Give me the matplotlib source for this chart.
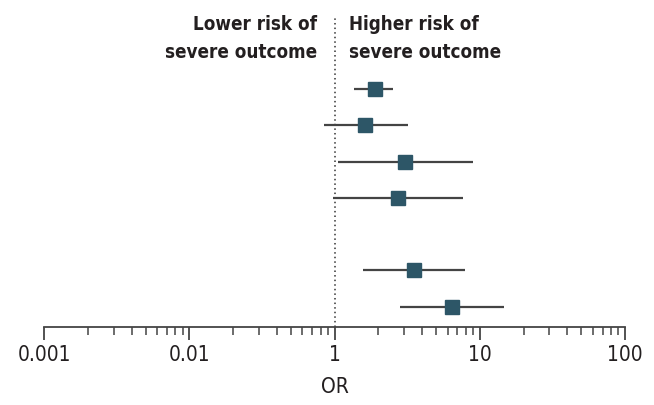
import matplotlib
matplotlib.use("Agg")
import matplotlib.pyplot as plt

# odds ratios with 95% CI, one row per comparison (row 4 is a blank spacer)
rows = [0, 1, 2, 3, 5, 6]
odds_ratio = [1.89, 1.62, 3.03, 2.71, 3.54, 6.44]
ci_low = [1.36, 0.85, 1.05, 0.98, 1.57, 2.82]
ci_high = [2.53, 3.18, 8.96, 7.61, 7.93, 14.7]

tick_values = [0.01, 0.1, 1, 10, 100]
tick_labels = ["0.001", "0.01", "1", "10", "100"]

TEXT = "#231f20"
BOX = "#2d5667"
FONT = dict(family="DejaVu Sans", stretch="condensed")

fig = plt.figure(figsize=(6.54, 4.05), dpi=100)
ax = fig.add_axes([44.3 / 654, 78.3 / 405, 580.7 / 654, 308.7 / 405])

ax.set_xscale("log")
ax.set_xlim(0.01, 100)
ax.set_ylim(6.55, -1.96)

# reference line at OR = 1
ax.axvline(1, color="#333333", lw=1.1, ls=(0, (1, 2)), zorder=1)

ax.hlines(rows, ci_low, ci_high, color="#444444", lw=1.6, zorder=2)
ax.plot(odds_ratio, rows, "s", ms=9.8, color=BOX, mec=BOX, zorder=3)

for side in ["left", "top", "right"]:
    ax.spines[side].set_visible(False)
ax.spines["bottom"].set_color("#444444")
ax.spines["bottom"].set_linewidth(1.3)
ax.set_yticks([])

ax.set_xticks(tick_values)
ax.set_xticklabels(tick_labels, fontsize=15, color=TEXT, **FONT)
ax.tick_params(axis="x", which="major", direction="out", length=9.5,
               width=1.3, color="#444444", pad=4)
ax.tick_params(axis="x", which="minor", direction="out", length=5.8,
               width=1.1, color="#444444")
ax.set_xlabel("OR", fontsize=15, color=TEXT, labelpad=8, **FONT)

# direction labels either side of the null line
head = dict(fontsize=13.5, fontweight="bold", color=TEXT, va="baseline", **FONT)
fig.text(316.7 / 654, 1 - 30 / 405, "Lower risk of", ha="right", **head)
fig.text(316.7 / 654, 1 - 58 / 405, "severe outcome", ha="right", **head)
fig.text(349.3 / 654, 1 - 30 / 405, "Higher risk of", ha="left", **head)
fig.text(349.3 / 654, 1 - 58 / 405, "severe outcome", ha="left", **head)

fig.savefig("out.png", dpi=100)
